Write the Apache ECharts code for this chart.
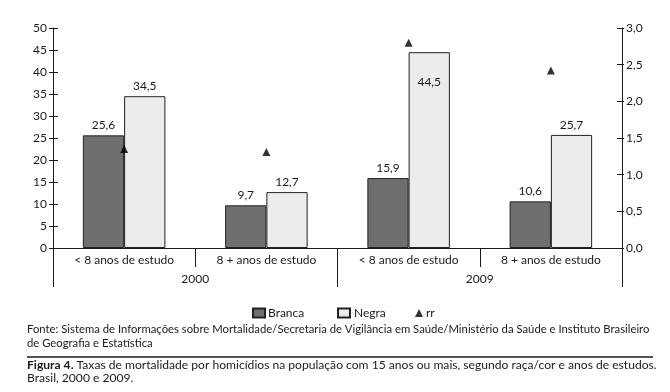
<!DOCTYPE html>
<html><head><meta charset="utf-8">
<script src="https://cdn.jsdelivr.net/npm/echarts@6/dist/echarts.min.js"></script>
<style>html,body{margin:0;padding:0;background:#fff}#c{width:670px;height:392px}</style>
</head><body><div id="c"></div>
<script>
const categories = ['< 8 anos de estudo', '8 + anos de estudo', '< 8 anos de estudo', '8 + anos de estudo'];
const years = ['2000', '2009'];
const branca = [25.6, 9.7, 15.9, 10.6];
const negra = [34.5, 12.7, 44.5, 25.7];
const rr = [1.35, 1.31, 2.80, 2.42];
const leftAxis = { min: 0, max: 50, step: 5 };
const rightAxis = { min: 0, max: 3, step: 0.5 };
const sourceLines = ['Fonte: Sistema de Informações sobre Mortalidade/Secretaria de Vigilância em Saúde/Ministério da Saúde e Instituto Brasileiro', 'de Geografia e Estatística'];
const captionBold = 'Figura 4.';
const captionLines = [' Taxas de mortalidade por homicídios na população com 15 anos ou mais, segundo raça/cor e anos de estudos.', 'Brasil, 2000 e 2009.'];

const FONT = 'Lato';
const INK = '#1a1a1a';
const fmt1 = v => Number(v).toFixed(1).replace('.', ',');

const chart = echarts.init(document.getElementById('c'), null, { renderer: 'canvas' });

const axisLine = { show: true, lineStyle: { color: INK, width: 1 } };
const baseY = (idx, cfg, pos, showLabel, inside, len, fmt, margin) => ({
  type: 'value', position: pos, min: cfg.min, max: cfg.max, interval: cfg.step,
  axisLine: idx < 2 ? axisLine : { show: false },
  axisTick: { show: true, inside: inside, length: len, lineStyle: { color: INK } },
  axisLabel: { show: showLabel, color: INK, fontFamily: FONT, fontSize: 12, margin: margin, formatter: fmt },
  splitLine: { show: false }
});

chart.setOption({
  animation: false,
  backgroundColor: '#fff',
  textStyle: { fontFamily: FONT },
  grid: { left: 53, right: 48, top: 28, bottom: 144, containLabel: false },
  legend: [
    { data: ['Branca'], left: 247, top: 302, itemWidth: 12, itemHeight: 9, itemGap: 0, icon: 'rect',
      textStyle: { color: INK, fontFamily: FONT, fontSize: 12, padding: [0, 0, 0, -2] } },
    { data: ['Negra'], left: 332, top: 302, itemWidth: 12, itemHeight: 9, itemGap: 0, icon: 'rect',
      textStyle: { color: INK, fontFamily: FONT, fontSize: 12, padding: [0, 0, 0, -1] } },
    { data: [{ name: 'rr', icon: 'triangle' }], left: 410, top: 302, itemWidth: 8, itemHeight: 8, itemGap: 0,
      textStyle: { color: INK, fontFamily: FONT, fontSize: 12, padding: [0, 0, 0, -2] } }
  ],
  xAxis: [
    { type: 'category', data: categories, position: 'bottom',
      axisLine: axisLine,
      axisTick: { show: true, interval: 0, length: 19, lineStyle: { color: INK } },
      axisLabel: { color: INK, fontFamily: FONT, fontSize: 12, margin: 6, interval: 0 } },
    { type: 'category', data: years, position: 'bottom',
      axisLine: { show: false },
      axisTick: { show: true, interval: 0, length: 39, lineStyle: { color: INK } },
      axisLabel: { color: INK, fontFamily: FONT, fontSize: 12, margin: 25, interval: 0 } }
  ],
  yAxis: [
    baseY(0, leftAxis, 'left', true, false, 4, v => String(v), 6),
    baseY(1, rightAxis, 'right', true, false, 2, fmt1, 4),
    baseY(2, leftAxis, 'left', false, true, 5, v => String(v), 6),
    baseY(3, rightAxis, 'right', false, true, 5, fmt1, 4)
  ],
  series: [
    { name: 'Branca', type: 'bar', xAxisIndex: 0, yAxisIndex: 0, data: branca,
      barGap: '0%', barCategoryGap: '42%',
      itemStyle: { color: '#6f6f6f', borderColor: '#222', borderWidth: 1 },
      label: { show: true, position: 'top', distance: 4, color: INK, fontFamily: FONT, fontSize: 12,
        formatter: p => fmt1(p.value) } },
    { name: 'Negra', type: 'bar', xAxisIndex: 0, yAxisIndex: 0,
      data: negra.map((v, i) => i === 2 ? { value: v, label: { position: 'insideTop', distance: 24 } } : v),
      itemStyle: { color: '#ececec', borderColor: '#222', borderWidth: 1 },
      label: { show: true, position: 'top', distance: 4, color: INK, fontFamily: FONT, fontSize: 12,
        formatter: p => fmt1(p.value) } },
    { name: 'rr', type: 'scatter', xAxisIndex: 0, yAxisIndex: 1, data: rr, z: 5,
      symbol: 'triangle', symbolSize: [8, 8], itemStyle: { color: '#000' } }
  ],
  graphic: [
    { type: 'text', left: 27, top: 324, style: { text: sourceLines[0], fill: INK, font: '11.3px ' + FONT } },
    { type: 'text', left: 27, top: 338, style: { text: sourceLines[1], fill: INK, font: '11.3px ' + FONT } },
    { type: 'line', shape: { x1: 27, y1: 357, x2: 653, y2: 357 }, style: { stroke: INK, lineWidth: 1.5 } },
    { type: 'text', left: 27, top: 359, style: {
        text: '{b|' + captionBold + '}' + captionLines[0],
        fill: INK, font: '12.1px ' + FONT,
        rich: { b: { fontWeight: 'bold', fontFamily: FONT, fontSize: 12.1, fill: INK } } } },
    { type: 'text', left: 27, top: 372, style: { text: captionLines[1], fill: INK, font: '12.1px ' + FONT } }
  ]
});
</script></body></html>
